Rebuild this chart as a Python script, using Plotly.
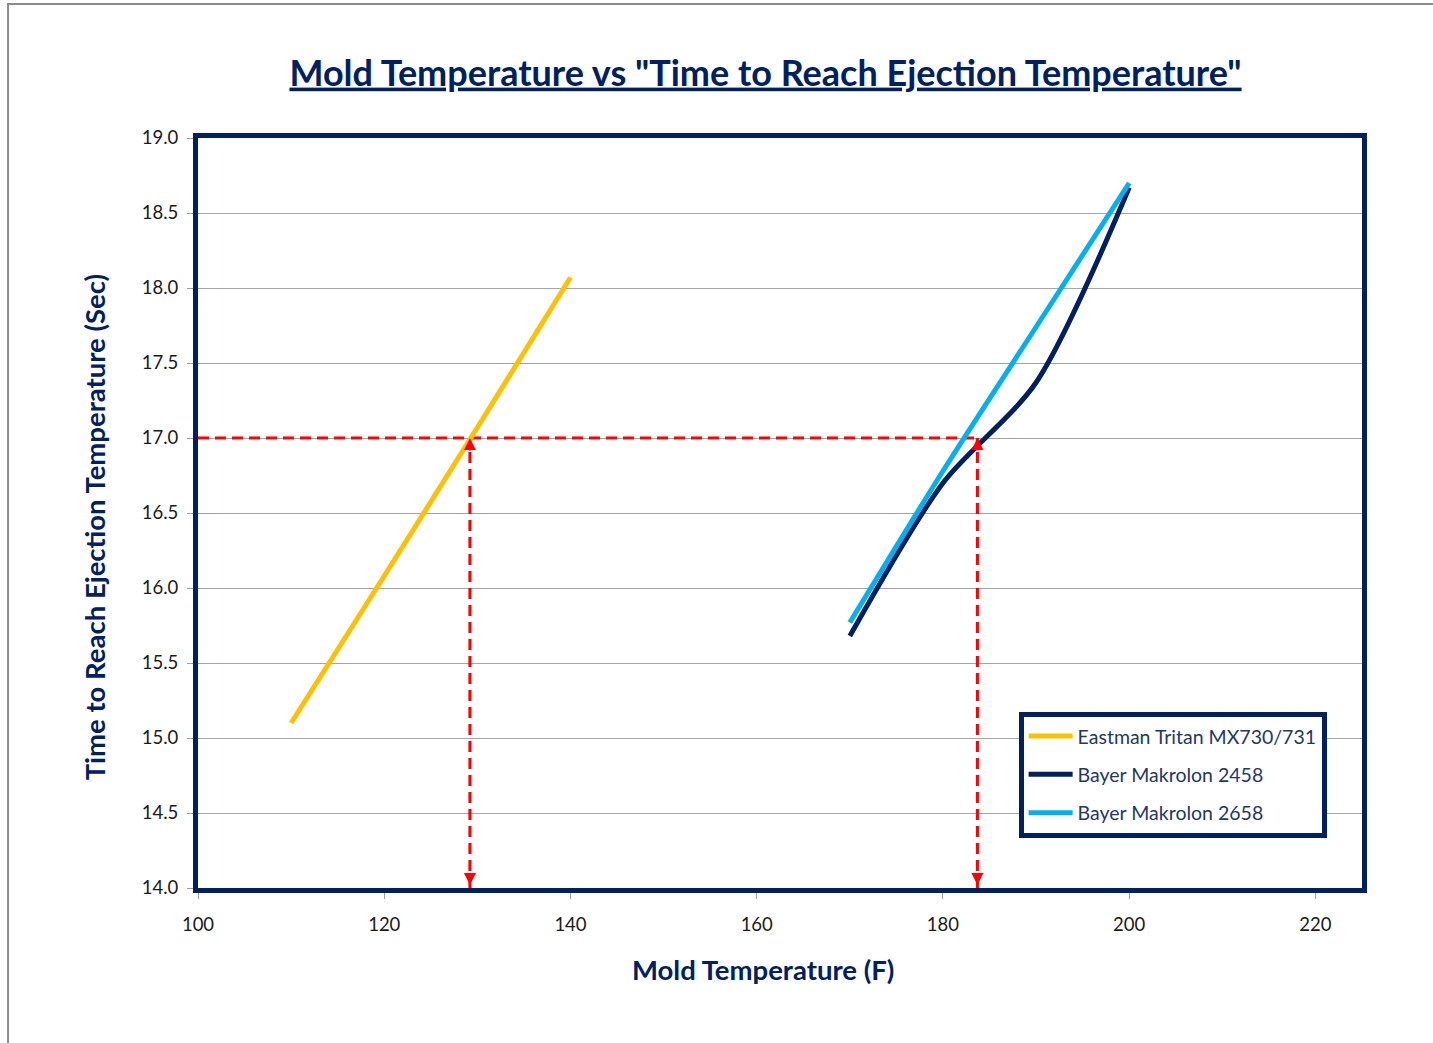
import plotly.graph_objects as go

# ---- data ----
tritan_x = [110, 120, 130, 140]
tritan_y = [15.10, 16.08, 17.07, 18.07]

m2458_x = [170, 180, 190, 200]
m2458_y = [15.68, 16.70, 17.37, 18.67]

m2658_x = [170, 180, 190, 200]
m2658_y = [15.77, 16.78, 17.74, 18.70]

series_names = ["Eastman Tritan MX730/731", "Bayer Makrolon 2458", "Bayer Makrolon 2658"]
series_colors = ["#FFC000", "#002060", "#00B0F0"]

target_time = 17.0
read_temps = [129.2, 183.7]

x_ticks = [100, 120, 140, 160, 180, 200, 220]
y_ticks = [14.0, 14.5, 15.0, 15.5, 16.0, 16.5, 17.0, 17.5, 18.0, 18.5, 19.0]

NAVY = "#002060"
FONT = "Lato"

fig = go.Figure()

# red dashed reading lines (drawn first, below the curves)
fig.add_trace(go.Scatter(
    x=[100, read_temps[1]], y=[target_time, target_time], mode="lines",
    line=dict(color="#FF0000", width=3, dash="11px,6px"),
    showlegend=False, hoverinfo="skip"))
for t in read_temps:
    fig.add_trace(go.Scatter(
        x=[t, t], y=[14.0, target_time], mode="lines",
        line=dict(color="#FF0000", width=3, dash="11px,6px"),
        showlegend=False, hoverinfo="skip"))

for name, xs, ys, col in zip(series_names,
                             [tritan_x, m2458_x, m2658_x],
                             [tritan_y, m2458_y, m2658_y],
                             series_colors):
    fig.add_trace(go.Scatter(
        x=xs, y=ys, mode="lines", name=name, legendgroup=name,
        line=dict(color=col, width=5, shape="spline", smoothing=0.8)))

# arrowheads on the vertical reading lines
for t in read_temps:
    fig.add_annotation(x=t, y=target_time, ax=0, ay=14, text="", showarrow=True,
                       arrowhead=2, arrowsize=1.2, arrowwidth=2, arrowcolor="#FF0000",
                       xref="x", yref="y")
    fig.add_annotation(x=t, y=14.0, ax=0, ay=-14, text="", showarrow=True,
                       arrowhead=2, arrowsize=1.2, arrowwidth=2, arrowcolor="#FF0000",
                       xref="x", yref="y", standoff=3)

# axis titles
fig.add_annotation(text="<b>Mold Temperature (F)</b>", xref="paper", yref="paper",
                   x=0.4854, y=-0.1093, xanchor="center", yanchor="middle",
                   showarrow=False, font=dict(family=FONT, size=27.5, color=NAVY))
fig.add_annotation(text="<b>Time to Reach Ejection Temperature (Sec)</b>",
                   xref="paper", yref="paper", x=-0.0893, y=0.481,
                   xanchor="center", yanchor="middle", textangle=-90,
                   showarrow=False, font=dict(family=FONT, size=27.5, color=NAVY))

# outer chart border (gray, partially visible)
fig.add_shape(type="rect", xref="paper", yref="paper",
              x0=-0.1632, x1=1.3, y0=-0.35, y1=1.1787,
              line=dict(color="#8C8C8C", width=2), layer="below")

fig.update_layout(
    width=1433, height=1043,
    margin=dict(l=198, r=71, t=138, b=155),
    paper_bgcolor="white", plot_bgcolor="white",
    font=dict(family=FONT, color="#000000"),
    title=dict(
        text='<b><u>Mold Temperature vs "Time to Reach Ejection Temperature"</u></b>',
        x=0.5342, xanchor="center", y=0.930, yanchor="middle",
        font=dict(family=FONT, size=36, color=NAVY)),
    xaxis=dict(
        range=[100, 225], tickvals=x_ticks, ticktext=[str(v) for v in x_ticks],
        showgrid=False, zeroline=False,
        showline=True, mirror=True, linecolor=NAVY, linewidth=5,
        ticks="outside", ticklen=6, tickcolor="#A0A0A0", tickwidth=1,
        ticklabelstandoff=10,
        tickfont=dict(family=FONT, size=18.5, color="#1a1a1a")),
    yaxis=dict(
        range=[14.0, 19.0], tickvals=y_ticks, ticktext=[f"{v:.1f}" for v in y_ticks],
        showgrid=True, gridcolor="#A6A6A6", gridwidth=1, zeroline=False,
        showline=True, mirror=True, linecolor=NAVY, linewidth=5,
        ticks="outside", ticklen=6, tickcolor="#A0A0A0", tickwidth=1,
        ticklabelstandoff=5,
        tickfont=dict(family=FONT, size=18.5, color="#1a1a1a")),
    legend=dict(
        x=0.705, y=0.235, xanchor="left", yanchor="top",
        bgcolor="white", bordercolor=NAVY, borderwidth=5,
        font=dict(family=FONT, size=19.5, color="#1F3864"),
        itemwidth=44,
        traceorder="grouped", tracegroupgap=10),
    showlegend=True,
)

fig.write_html("out.html")
